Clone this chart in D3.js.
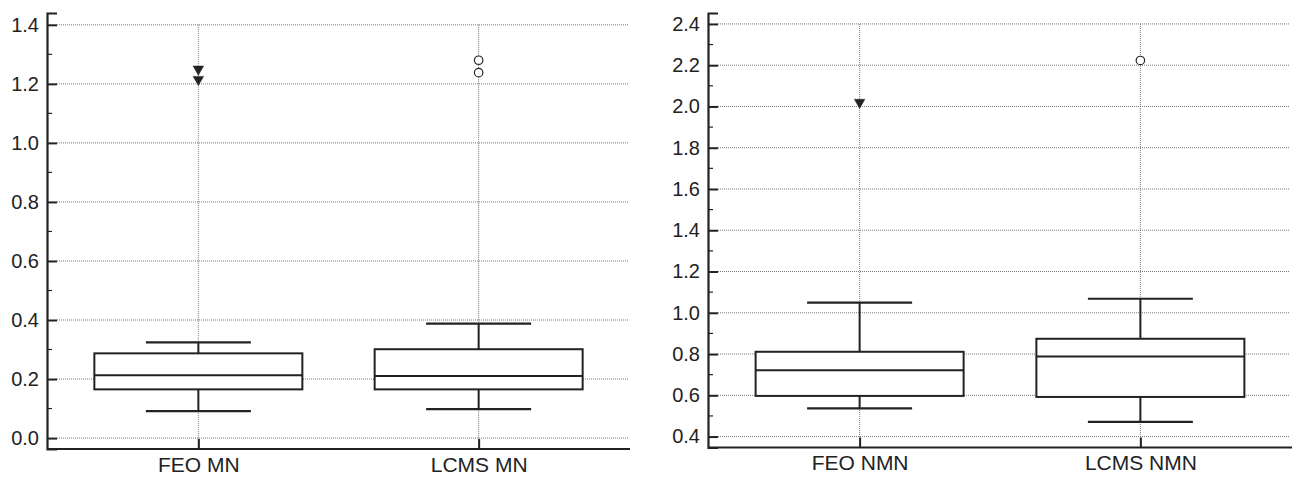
<!DOCTYPE html>
<html>
<head>
<meta charset="utf-8">
<script src="https://cdn.jsdelivr.net/npm/d3@7"></script>
<style>
  body { margin: 0; background: #fff; }
  svg { display: block; }
  svg text { font-family: 'Liberation Sans', Arial, sans-serif; }
</style>
</head>
<body>
<svg id="chart" width="1296" height="478"></svg>
<script>
// left panel (MN)
const categoriesMN = ['FEO MN', 'LCMS MN']
const whiskerLowMN = [0.091, 0.098]
const q1MN = [0.165, 0.165]
const medianMN = [0.213, 0.210]
const q3MN = [0.287, 0.301]
const whiskerHighMN = [0.324, 0.388]
const outliersMN = [[1.25, 1.215], [1.280, 1.238]]
const ticksMN = [0.0, 0.2, 0.4, 0.6, 0.8, 1.0, 1.2, 1.4]

// right panel (NMN)
const categoriesNMN = ['FEO NMN', 'LCMS NMN']
const whiskerLowNMN = [0.537, 0.471]
const q1NMN = [0.597, 0.592]
const medianNMN = [0.722, 0.788]
const q3NMN = [0.811, 0.874]
const whiskerHighNMN = [1.049, 1.068]
const outliersNMN = [[2.02], [2.223]]
const ticksNMN = [0.4, 0.6, 0.8, 1.0, 1.2, 1.4, 1.6, 1.8, 2.0, 2.2, 2.4]

// outlier marker per category: FEO = down triangle, LCMS = open circle
const markerShapes = ['triangle', 'circle']

const ink = '#222'
const svg = d3.select('#chart')

/**
 * Draws one box plot panel.
 */
function drawPanel (opts) {
  const g = svg.append('g')
  const x = d3.scalePoint()
    .domain(opts.categories)
    .range([opts.x0, opts.x1])
    .padding(0.54)
  const y = d3.scaleLinear()
    .domain(opts.domain)
    .range([opts.y1, opts.y0])

  const boxW = 208
  const capW = 105

  // grid
  g.selectAll('.hgrid')
    .data(opts.ticks)
    .join('line')
    .attr('x1', opts.x0 + 10)
    .attr('x2', opts.x1 - 2)
    .attr('y1', d => y(d))
    .attr('y2', d => y(d))
    .attr('stroke', '#777')
    .attr('stroke-width', 1)
    .attr('stroke-dasharray', '1,1')

  g.selectAll('.vgrid')
    .data(opts.categories)
    .join('line')
    .attr('x1', d => x(d))
    .attr('x2', d => x(d))
    .attr('y1', y(opts.ticks[opts.ticks.length - 1]))
    .attr('y2', opts.y1)
    .attr('stroke', '#777')
    .attr('stroke-width', 1)
    .attr('stroke-dasharray', '1,1')

  // minor ticks
  const minor = opts.ticks.slice(0, -1).map(t => +(t + opts.step / 2).toFixed(2))
  g.selectAll('.minor')
    .data(minor)
    .join('line')
    .attr('x1', opts.x0)
    .attr('x2', opts.x0 + 5)
    .attr('y1', d => y(d))
    .attr('y2', d => y(d))
    .attr('stroke', ink)
    .attr('stroke-width', 1.2)

  // y axis
  const yAxis = d3.axisLeft(y)
    .tickValues(opts.ticks)
    .tickSize(-10)
    .tickPadding(8)
    .tickFormat(d3.format('.1f'))
  const ya = g.append('g')
    .attr('transform', `translate(${opts.x0},0)`)
    .call(yAxis)
  ya.attr('font-family', null).attr('font-size', null)
  ya.select('.domain').attr('stroke', ink).attr('stroke-width', 2.2)
  ya.selectAll('.tick line').attr('stroke', ink).attr('stroke-width', 2)
  ya.selectAll('.tick text')
    .attr('fill', ink)
    .style('font-size', '20px')

  // x axis
  const xAxis = d3.axisBottom(x).tickSize(-10).tickPadding(8)
  const xa = g.append('g')
    .attr('transform', `translate(0,${opts.y1})`)
    .call(xAxis)
  xa.attr('font-family', null).attr('font-size', null)
  xa.select('.domain').attr('stroke', ink).attr('stroke-width', 2.2)
    .attr('d', `M${opts.x0},0H${opts.x1}`)
  xa.selectAll('.tick line').attr('stroke', ink).attr('stroke-width', 2)
  xa.selectAll('.tick text')
    .attr('fill', ink)
    .style('font-size', '21px')

  // boxes
  const idx = d3.range(opts.categories.length)
  const boxes = g.selectAll('.box')
    .data(idx)
    .join('g')
    .attr('transform', i => `translate(${x(opts.categories[i])},0)`)

  boxes.append('line')
    .attr('y1', i => y(opts.lo[i]))
    .attr('y2', i => y(opts.q1[i]))
    .attr('stroke', ink).attr('stroke-width', 2)
  boxes.append('line')
    .attr('y1', i => y(opts.q3[i]))
    .attr('y2', i => y(opts.hi[i]))
    .attr('stroke', ink).attr('stroke-width', 2)
  boxes.append('line')
    .attr('x1', -capW / 2).attr('x2', capW / 2)
    .attr('y1', i => y(opts.lo[i])).attr('y2', i => y(opts.lo[i]))
    .attr('stroke', ink).attr('stroke-width', 2.2)
  boxes.append('line')
    .attr('x1', -capW / 2).attr('x2', capW / 2)
    .attr('y1', i => y(opts.hi[i])).attr('y2', i => y(opts.hi[i]))
    .attr('stroke', ink).attr('stroke-width', 2.2)
  boxes.append('rect')
    .attr('x', -boxW / 2)
    .attr('width', boxW)
    .attr('y', i => y(opts.q3[i]))
    .attr('height', i => y(opts.q1[i]) - y(opts.q3[i]))
    .attr('fill', '#fff')
    .attr('stroke', ink)
    .attr('stroke-width', 2)
  boxes.append('line')
    .attr('x1', -boxW / 2).attr('x2', boxW / 2)
    .attr('y1', i => y(opts.med[i])).attr('y2', i => y(opts.med[i]))
    .attr('stroke', ink).attr('stroke-width', 2)

  // outliers
  boxes.each(function (i) {
    const b = d3.select(this)
    const shape = markerShapes[i]
    b.selectAll('.out')
      .data(opts.outliers[i])
      .join('path')
      .attr('d', shape === 'triangle'
        ? d3.symbol(d3.symbolTriangle, 48)()
        : d3.symbol(d3.symbolCircle, 56)())
      .attr('transform', d => `translate(0,${y(d)}) rotate(${shape === 'triangle' ? 180 : 0})`)
      .attr('fill', shape === 'triangle' ? ink : '#fff')
      .attr('stroke', ink)
      .attr('stroke-width', shape === 'triangle' ? 0.5 : 1.2)
  })
}

drawPanel({
  categories: categoriesMN,
  lo: whiskerLowMN, q1: q1MN, med: medianMN, q3: q3MN, hi: whiskerHighMN,
  outliers: outliersMN,
  ticks: ticksMN,
  step: 0.2,
  domain: [-0.037, 1.44],
  x0: 47, x1: 630, y0: 13, y1: 449
})

drawPanel({
  categories: categoriesNMN,
  lo: whiskerLowNMN, q1: q1NMN, med: medianNMN, q3: q3NMN, hi: whiskerHighNMN,
  outliers: outliersNMN,
  ticks: ticksNMN,
  step: 0.2,
  domain: [0.347, 2.453],
  x0: 708, x1: 1292, y0: 13, y1: 447.5
})
</script>
</body>
</html>
